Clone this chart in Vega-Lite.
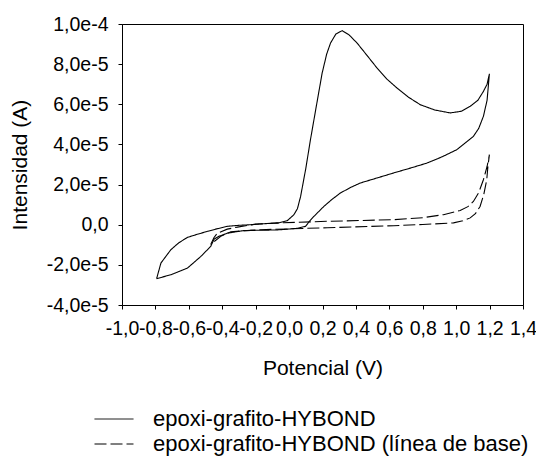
{
  "$schema": "https://vega.github.io/schema/vega-lite/v6.json",
  "autosize": "none",
  "width": 401,
  "height": 281,
  "padding": {"left": 122, "top": 24, "right": 13, "bottom": 161},
  "background": "white",
  "config": {
    "view": {"stroke": "black", "strokeWidth": 1},
    "font": "Liberation Sans",
    "axis": {
      "grid": false,
      "domainColor": "black",
      "tickColor": "black",
      "labelColor": "black",
      "titleColor": "black",
      "labelFont": "Liberation Sans",
      "titleFont": "Liberation Sans",
      "labelFontSize": 19.5,
      "titleFontSize": 21,
      "titleFontWeight": "normal",
      "tickSize": 4
    }
  },
  "data": {
    "values": [
      {"serie": "epoxi-grafito-HYBOND", "ord": 1, "V": -0.793, "I": -2.69e-5},
      {"serie": "epoxi-grafito-HYBOND", "ord": 2, "V": -0.767, "I": -1.91e-5},
      {"serie": "epoxi-grafito-HYBOND", "ord": 3, "V": -0.735, "I": -1.55e-5},
      {"serie": "epoxi-grafito-HYBOND", "ord": 4, "V": -0.707, "I": -1.24e-5},
      {"serie": "epoxi-grafito-HYBOND", "ord": 5, "V": -0.66, "I": -9.0e-6},
      {"serie": "epoxi-grafito-HYBOND", "ord": 6, "V": -0.608, "I": -6.3e-6},
      {"serie": "epoxi-grafito-HYBOND", "ord": 7, "V": -0.55, "I": -4.8e-6},
      {"serie": "epoxi-grafito-HYBOND", "ord": 8, "V": -0.488, "I": -3.3e-6},
      {"serie": "epoxi-grafito-HYBOND", "ord": 9, "V": -0.43, "I": -2.0e-6},
      {"serie": "epoxi-grafito-HYBOND", "ord": 10, "V": -0.369, "I": -0.8e-6},
      {"serie": "epoxi-grafito-HYBOND", "ord": 11, "V": -0.30, "I": -0.3e-6},
      {"serie": "epoxi-grafito-HYBOND", "ord": 12, "V": -0.23, "I": 0.0},
      {"serie": "epoxi-grafito-HYBOND", "ord": 13, "V": -0.15, "I": 0.5e-6},
      {"serie": "epoxi-grafito-HYBOND", "ord": 14, "V": -0.07, "I": 0.8e-6},
      {"serie": "epoxi-grafito-HYBOND", "ord": 15, "V": -0.011, "I": 2.0e-6},
      {"serie": "epoxi-grafito-HYBOND", "ord": 16, "V": 0.029, "I": 5.0e-6},
      {"serie": "epoxi-grafito-HYBOND", "ord": 17, "V": 0.05, "I": 8.0e-6},
      {"serie": "epoxi-grafito-HYBOND", "ord": 18, "V": 0.069, "I": 1.41e-5},
      {"serie": "epoxi-grafito-HYBOND", "ord": 19, "V": 0.10, "I": 2.8e-5},
      {"serie": "epoxi-grafito-HYBOND", "ord": 20, "V": 0.128, "I": 4.24e-5},
      {"serie": "epoxi-grafito-HYBOND", "ord": 21, "V": 0.165, "I": 6.0e-5},
      {"serie": "epoxi-grafito-HYBOND", "ord": 22, "V": 0.198, "I": 7.56e-5},
      {"serie": "epoxi-grafito-HYBOND", "ord": 23, "V": 0.225, "I": 8.5e-5},
      {"serie": "epoxi-grafito-HYBOND", "ord": 24, "V": 0.248, "I": 9.05e-5},
      {"serie": "epoxi-grafito-HYBOND", "ord": 25, "V": 0.28, "I": 9.5e-5},
      {"serie": "epoxi-grafito-HYBOND", "ord": 26, "V": 0.318, "I": 9.67e-5},
      {"serie": "epoxi-grafito-HYBOND", "ord": 27, "V": 0.36, "I": 9.45e-5},
      {"serie": "epoxi-grafito-HYBOND", "ord": 28, "V": 0.407, "I": 9.05e-5},
      {"serie": "epoxi-grafito-HYBOND", "ord": 29, "V": 0.465, "I": 8.45e-5},
      {"serie": "epoxi-grafito-HYBOND", "ord": 30, "V": 0.526, "I": 7.81e-5},
      {"serie": "epoxi-grafito-HYBOND", "ord": 31, "V": 0.586, "I": 7.25e-5},
      {"serie": "epoxi-grafito-HYBOND", "ord": 32, "V": 0.646, "I": 6.81e-5},
      {"serie": "epoxi-grafito-HYBOND", "ord": 33, "V": 0.715, "I": 6.35e-5},
      {"serie": "epoxi-grafito-HYBOND", "ord": 34, "V": 0.785, "I": 5.98e-5},
      {"serie": "epoxi-grafito-HYBOND", "ord": 35, "V": 0.87, "I": 5.72e-5},
      {"serie": "epoxi-grafito-HYBOND", "ord": 36, "V": 0.964, "I": 5.57e-5},
      {"serie": "epoxi-grafito-HYBOND", "ord": 37, "V": 1.03, "I": 5.65e-5},
      {"serie": "epoxi-grafito-HYBOND", "ord": 38, "V": 1.084, "I": 5.9e-5},
      {"serie": "epoxi-grafito-HYBOND", "ord": 39, "V": 1.13, "I": 6.2e-5},
      {"serie": "epoxi-grafito-HYBOND", "ord": 40, "V": 1.163, "I": 6.64e-5},
      {"serie": "epoxi-grafito-HYBOND", "ord": 41, "V": 1.185, "I": 7.0e-5},
      {"serie": "epoxi-grafito-HYBOND", "ord": 42, "V": 1.199, "I": 7.52e-5},
      {"serie": "epoxi-grafito-HYBOND", "ord": 43, "V": 1.185, "I": 6.2e-5},
      {"serie": "epoxi-grafito-HYBOND", "ord": 44, "V": 1.163, "I": 5.4e-5},
      {"serie": "epoxi-grafito-HYBOND", "ord": 45, "V": 1.135, "I": 4.8e-5},
      {"serie": "epoxi-grafito-HYBOND", "ord": 46, "V": 1.103, "I": 4.4e-5},
      {"serie": "epoxi-grafito-HYBOND", "ord": 47, "V": 1.004, "I": 3.74e-5},
      {"serie": "epoxi-grafito-HYBOND", "ord": 48, "V": 0.915, "I": 3.38e-5},
      {"serie": "epoxi-grafito-HYBOND", "ord": 49, "V": 0.825, "I": 3.07e-5},
      {"serie": "epoxi-grafito-HYBOND", "ord": 50, "V": 0.726, "I": 2.82e-5},
      {"serie": "epoxi-grafito-HYBOND", "ord": 51, "V": 0.626, "I": 2.58e-5},
      {"serie": "epoxi-grafito-HYBOND", "ord": 52, "V": 0.527, "I": 2.33e-5},
      {"serie": "epoxi-grafito-HYBOND", "ord": 53, "V": 0.427, "I": 2.08e-5},
      {"serie": "epoxi-grafito-HYBOND", "ord": 54, "V": 0.367, "I": 1.85e-5},
      {"serie": "epoxi-grafito-HYBOND", "ord": 55, "V": 0.307, "I": 1.58e-5},
      {"serie": "epoxi-grafito-HYBOND", "ord": 56, "V": 0.255, "I": 1.25e-5},
      {"serie": "epoxi-grafito-HYBOND", "ord": 57, "V": 0.208, "I": 9.1e-6},
      {"serie": "epoxi-grafito-HYBOND", "ord": 58, "V": 0.148, "I": 4.1e-6},
      {"serie": "epoxi-grafito-HYBOND", "ord": 59, "V": 0.12, "I": 1.5e-6},
      {"serie": "epoxi-grafito-HYBOND", "ord": 60, "V": 0.099, "I": -0.8e-6},
      {"serie": "epoxi-grafito-HYBOND", "ord": 61, "V": 0.05, "I": -1.8e-6},
      {"serie": "epoxi-grafito-HYBOND", "ord": 62, "V": -0.07, "I": -2.6e-6},
      {"serie": "epoxi-grafito-HYBOND", "ord": 63, "V": -0.27, "I": -2.9e-6},
      {"serie": "epoxi-grafito-HYBOND", "ord": 64, "V": -0.369, "I": -4.2e-6},
      {"serie": "epoxi-grafito-HYBOND", "ord": 65, "V": -0.42, "I": -5.8e-6},
      {"serie": "epoxi-grafito-HYBOND", "ord": 66, "V": -0.449, "I": -7.2e-6},
      {"serie": "epoxi-grafito-HYBOND", "ord": 67, "V": -0.469, "I": -1.08e-5},
      {"serie": "epoxi-grafito-HYBOND", "ord": 68, "V": -0.528, "I": -1.58e-5},
      {"serie": "epoxi-grafito-HYBOND", "ord": 69, "V": -0.608, "I": -2.16e-5},
      {"serie": "epoxi-grafito-HYBOND", "ord": 70, "V": -0.707, "I": -2.49e-5},
      {"serie": "epoxi-grafito-HYBOND", "ord": 71, "V": -0.793, "I": -2.69e-5},
      {"serie": "epoxi-grafito-HYBOND (línea de base)", "ord": 1, "V": -0.469, "I": -9.9e-6},
      {"serie": "epoxi-grafito-HYBOND (línea de base)", "ord": 2, "V": -0.45, "I": -6.5e-6},
      {"serie": "epoxi-grafito-HYBOND (línea de base)", "ord": 3, "V": -0.429, "I": -4.2e-6},
      {"serie": "epoxi-grafito-HYBOND (línea de base)", "ord": 4, "V": -0.37, "I": -2.2e-6},
      {"serie": "epoxi-grafito-HYBOND (línea de base)", "ord": 5, "V": -0.309, "I": -1.2e-6},
      {"serie": "epoxi-grafito-HYBOND (línea de base)", "ord": 6, "V": -0.2, "I": 0.3e-6},
      {"serie": "epoxi-grafito-HYBOND (línea de base)", "ord": 7, "V": -0.07, "I": 0.9e-6},
      {"serie": "epoxi-grafito-HYBOND (línea de base)", "ord": 8, "V": 0.228, "I": 1.7e-6},
      {"serie": "epoxi-grafito-HYBOND (línea de base)", "ord": 9, "V": 0.626, "I": 2.5e-6},
      {"serie": "epoxi-grafito-HYBOND (línea de base)", "ord": 10, "V": 0.80, "I": 3.5e-6},
      {"serie": "epoxi-grafito-HYBOND (línea de base)", "ord": 11, "V": 0.924, "I": 5.0e-6},
      {"serie": "epoxi-grafito-HYBOND (línea de base)", "ord": 12, "V": 1.024, "I": 7.1e-6},
      {"serie": "epoxi-grafito-HYBOND (línea de base)", "ord": 13, "V": 1.07, "I": 9.0e-6},
      {"serie": "epoxi-grafito-HYBOND (línea de base)", "ord": 14, "V": 1.103, "I": 1.16e-5},
      {"serie": "epoxi-grafito-HYBOND (línea de base)", "ord": 15, "V": 1.135, "I": 1.6e-5},
      {"serie": "epoxi-grafito-HYBOND (línea de base)", "ord": 16, "V": 1.163, "I": 2.24e-5},
      {"serie": "epoxi-grafito-HYBOND (línea de base)", "ord": 17, "V": 1.185, "I": 2.9e-5},
      {"serie": "epoxi-grafito-HYBOND (línea de base)", "ord": 18, "V": 1.199, "I": 3.49e-5},
      {"serie": "epoxi-grafito-HYBOND (línea de base)", "ord": 19, "V": 1.19, "I": 2.9e-5},
      {"serie": "epoxi-grafito-HYBOND (línea de base)", "ord": 20, "V": 1.183, "I": 2.24e-5},
      {"serie": "epoxi-grafito-HYBOND (línea de base)", "ord": 21, "V": 1.165, "I": 1.5e-5},
      {"serie": "epoxi-grafito-HYBOND (línea de base)", "ord": 22, "V": 1.143, "I": 9.1e-6},
      {"serie": "epoxi-grafito-HYBOND (línea de base)", "ord": 23, "V": 1.115, "I": 5.5e-6},
      {"serie": "epoxi-grafito-HYBOND (línea de base)", "ord": 24, "V": 1.084, "I": 3.4e-6},
      {"serie": "epoxi-grafito-HYBOND (línea de base)", "ord": 25, "V": 1.04, "I": 2.0e-6},
      {"serie": "epoxi-grafito-HYBOND (línea de base)", "ord": 26, "V": 0.984, "I": 0.9e-6},
      {"serie": "epoxi-grafito-HYBOND (línea de base)", "ord": 27, "V": 0.80, "I": 0.1e-6},
      {"serie": "epoxi-grafito-HYBOND (línea de base)", "ord": 28, "V": 0.626, "I": -0.5e-6},
      {"serie": "epoxi-grafito-HYBOND (línea de base)", "ord": 29, "V": 0.228, "I": -1.5e-6},
      {"serie": "epoxi-grafito-HYBOND (línea de base)", "ord": 30, "V": -0.17, "I": -2.5e-6},
      {"serie": "epoxi-grafito-HYBOND (línea de base)", "ord": 31, "V": -0.23, "I": -2.8e-6},
      {"serie": "epoxi-grafito-HYBOND (línea de base)", "ord": 32, "V": -0.349, "I": -3.5e-6},
      {"serie": "epoxi-grafito-HYBOND (línea de base)", "ord": 33, "V": -0.409, "I": -5.8e-6},
      {"serie": "epoxi-grafito-HYBOND (línea de base)", "ord": 34, "V": -0.45, "I": -8.5e-6},
      {"serie": "epoxi-grafito-HYBOND (línea de base)", "ord": 35, "V": -0.469, "I": -9.9e-6}
    ]
  },
  "mark": {"type": "line", "color": "black", "strokeWidth": 1.1},
  "encoding": {
    "x": {
      "field": "V", "type": "quantitative",
      "scale": {"domain": [-1.0, 1.4], "nice": false, "zero": false},
      "axis": {
        "title": "Potencial (V)",
        "values": [-1.0, -0.8, -0.6, -0.4, -0.2, 0.0, 0.2, 0.4, 0.6, 0.8, 1.0, 1.2, 1.4],
        "labelExpr": "replace(replace(format(datum.value, '.1f'), '.', ','), '\u2212', '-')",
        "labelPadding": 10,
        "titlePadding": 20,
        "labelOverlap": false,
        "labelFlush": false
      }
    },
    "y": {
      "field": "I", "type": "quantitative",
      "scale": {"domain": [-4e-5, 1e-4], "nice": false, "zero": false},
      "axis": {
        "title": "Intensidad (A)",
        "values": [-4e-5, -2e-5, 0, 2e-5, 4e-5, 6e-5, 8e-5, 1e-4],
        "labelExpr": "datum.value == 0 ? '0,0' : replace(replace(replace(format(datum.value, '.1e'), '.', ','), '\u2212', '-'), '\u2212', '-')",
        "labelPadding": 10,
        "titlePadding": 16,
        "labelOverlap": false,
        "labelFlush": false
      }
    },
    "order": {"field": "ord", "type": "quantitative"},
    "strokeDash": {
      "field": "serie", "type": "nominal",
      "scale": {
        "domain": ["epoxi-grafito-HYBOND", "epoxi-grafito-HYBOND (línea de base)"],
        "range": [[1, 0], [12, 4]]
      },
      "legend": {
        "title": null,
        "orient": "none",
        "legendX": -19,
        "legendY": 384,
        "symbolType": "M-2,0H2",
        "symbolSize": 380,
        "symbolStrokeColor": "black",
        "symbolFillColor": "transparent",
        "symbolStrokeWidth": 1,
        "labelFont": "Liberation Sans",
        "labelFontSize": 22,
        "labelColor": "black",
        "labelLimit": 500,
        "labelOffset": 28,
        "rowPadding": 3
      }
    }
  }
}
